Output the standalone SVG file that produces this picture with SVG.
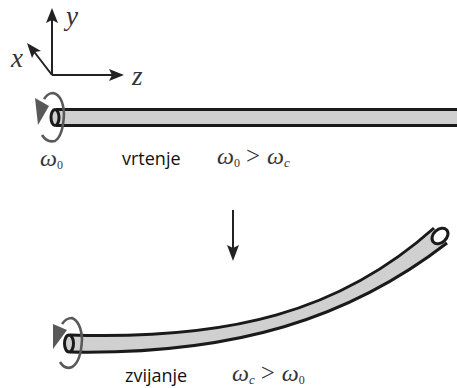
<svg xmlns="http://www.w3.org/2000/svg" width="457" height="388" viewBox="0 0 457 388">
<style>
.ax{fill:none;stroke:#222;stroke-width:2}
.head{fill:#222}
.tube{fill:#d0d0d0;stroke:none}
.edge{fill:none;stroke:#1a1a1a;stroke-width:3}
.rot{fill:none;stroke:#595959;stroke-width:2.6}
.roth{fill:#595959}
.m{font-family:"Liberation Serif",serif;font-style:italic;fill:#333}
.sub{font-family:"Liberation Serif",serif;fill:#333;font-size:12px}
.up{font-family:"Liberation Serif",serif;fill:#333;font-size:25px}
.t{font-family:"Open Sans","Noto Sans",sans-serif;font-size:18px;fill:#111}
</style>
<rect width="457" height="388" fill="#fff"/>
<g id="axes">
<path class="ax" d="M52 75V16M52 75H113M52 75L32 49"/>
<polygon class="head" points="52,8 58,23 52,20 46,23"/>
<polygon class="head" points="124,75 109,69 112,75 109,81"/>
<polygon class="head" points="27,43 41,51 35,52 32,58"/>
<text class="m" x="66" y="25" font-size="27">y</text>
<text class="m" x="11" y="67" font-size="27">x</text>
<text class="m" x="132" y="85" font-size="27">z</text>
</g>
<g id="straight-tube">
<rect class="tube" x="56" y="109" width="401" height="17"/>
<path class="edge" d="M56 109.500H457M56 125.500H457"/>
<ellipse cx="55" cy="117.500" rx="4" ry="8" fill="#d0d0d0" stroke="#1a1a1a" stroke-width="3"/>
<path class="rot" d="M44 99Q48 93 53 93Q63 95 64 114Q63 136 55 141Q47 143 42 135"/>
<polygon class="roth" points="35,98 38,125 49,106"/>
</g>
<g id="curved-tube">
<path class="tube" d="M70 335C230 340 340 312 434 228L447 243C350 318 235 355 70 352Z"/>
<path class="edge" d="M70 335C230 340 340 312 434 228M70 352C235 355 350 318 447 243"/>
<ellipse cx="69" cy="343.500" rx="4.500" ry="8.500" fill="#d0d0d0" stroke="#1a1a1a" stroke-width="3"/>
<ellipse cx="440" cy="236" rx="6.500" ry="9" transform="rotate(48 440 236)" fill="#fff" stroke="#1a1a1a" stroke-width="3"/>
<path class="rot" d="M62 324Q66 318 72 318Q81 322 82 339Q81 362 72 367Q65 370 60 362"/>
<polygon class="roth" points="53,324 53,349 67,330"/>
</g>
<g id="down-arrow">
<path class="ax" d="M233 210V250"/>
<polygon class="head" points="233,261 227,245 233,248 239,245"/>
</g>
<g id="labels">
<text class="m" x="40" y="166" font-size="24">ω<tspan class="sub" font-style="normal" dy="3">0</tspan></text>
<text class="t" x="122" y="165">vrtenje</text>
<text class="m" x="217" y="164" font-size="24">ω<tspan class="sub" font-style="normal" dy="3">0</tspan><tspan class="up" font-style="normal" dy="-3" dx="6">&gt;</tspan><tspan dx="7">ω</tspan><tspan font-size="13" dy="3">c</tspan></text>
<text class="t" x="125" y="382">zvijanje</text>
<text class="m" x="232" y="381" font-size="24">ω<tspan font-size="13" dy="3">c</tspan><tspan class="up" font-style="normal" dy="-3" dx="6">&gt;</tspan><tspan dx="7">ω</tspan><tspan class="sub" font-style="normal" dy="3">0</tspan></text>
</g>
</svg>
